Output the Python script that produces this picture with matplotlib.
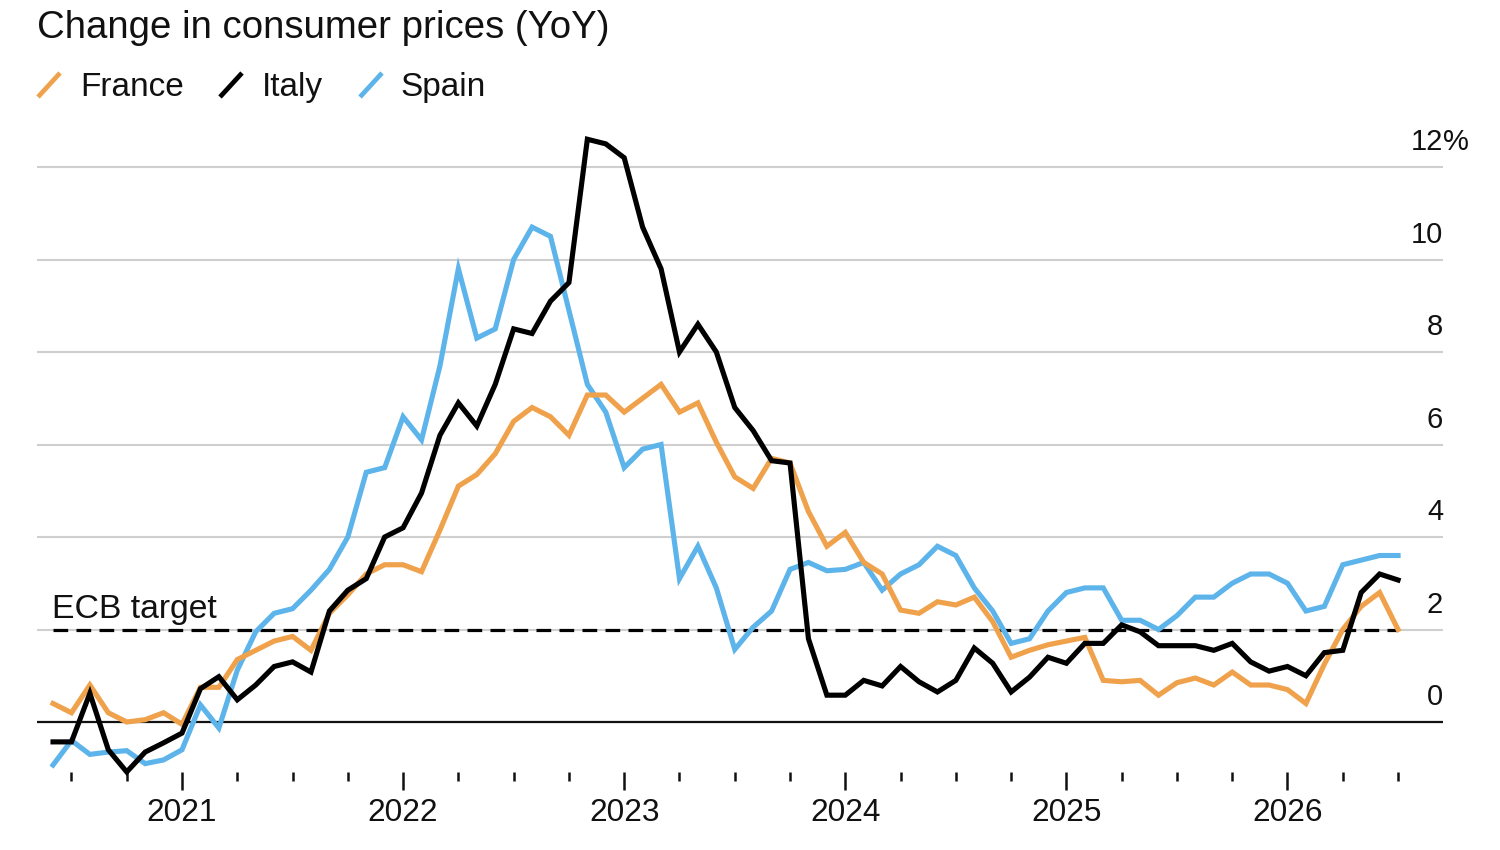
import matplotlib
matplotlib.use("Agg")
import matplotlib.pyplot as plt
from matplotlib.lines import Line2D

plt.rcParams['font.family'] = ['Liberation Sans', 'DejaVu Sans']

# months since Jan 2021 (Jun 2020 .. Jul 2026)
months = list(range(-7, 67))

france = [0.4, 0.2, 0.8, 0.2, 0.0, 0.05, 0.2,
          -0.05, 0.75, 0.75, 1.35, 1.55, 1.75, 1.85, 1.55, 2.35, 2.75, 3.2, 3.4,
          3.4, 3.25, 4.15, 5.1, 5.35, 5.8, 6.5, 6.8, 6.6, 6.2, 7.07, 7.07,
          6.7, 7.0, 7.3, 6.7, 6.9, 6.05, 5.3, 5.05, 5.7, 5.6, 4.55, 3.8,
          4.1, 3.45, 3.2, 2.42, 2.35, 2.6, 2.53, 2.7, 2.17, 1.4, 1.55, 1.67,
          1.75, 1.83, 0.9, 0.87, 0.9, 0.58, 0.85, 0.95, 0.8, 1.08, 0.8, 0.8,
          0.7, 0.4, 1.25, 2.0, 2.5, 2.8, 2.0]

italy = [-0.43, -0.43, 0.62, -0.6, -1.08, -0.65, -0.45,
         -0.24, 0.72, 0.98, 0.48, 0.8, 1.2, 1.3, 1.08, 2.4, 2.85, 3.1, 4.0,
         4.2, 4.95, 6.2, 6.9, 6.4, 7.3, 8.5, 8.4, 9.1, 9.5, 12.6, 12.5,
         12.2, 10.7, 9.8, 8.0, 8.6, 8.0, 6.8, 6.3, 5.65, 5.6, 1.8, 0.58,
         0.58, 0.9, 0.78, 1.2, 0.87, 0.65, 0.9, 1.6, 1.27, 0.65, 0.97, 1.4,
         1.27, 1.7, 1.7, 2.1, 1.95, 1.65, 1.65, 1.65, 1.55, 1.7, 1.3, 1.1,
         1.2, 1.0, 1.5, 1.55, 2.8, 3.2, 3.07]

spain = [-0.93, -0.4, -0.7, -0.65, -0.62, -0.9, -0.82,
         -0.6, 0.37, -0.13, 1.12, 1.95, 2.35, 2.45, 2.85, 3.3, 4.0, 5.4, 5.5,
         6.6, 6.1, 7.7, 9.8, 8.3, 8.5, 10.0, 10.7, 10.5, 8.9, 7.3, 6.7,
         5.5, 5.9, 6.0, 3.1, 3.8, 2.9, 1.57, 2.05, 2.4, 3.3, 3.45, 3.27,
         3.3, 3.45, 2.85, 3.2, 3.4, 3.8, 3.6, 2.9, 2.4, 1.7, 1.8, 2.4,
         2.8, 2.9, 2.9, 2.2, 2.2, 2.0, 2.3, 2.7, 2.7, 3.0, 3.2, 3.2,
         3.0, 2.4, 2.5, 3.4, 3.5, 3.6, 3.6]

year_labels = ['2021', '2022', '2023', '2024', '2025', '2026']
year_positions = [0, 12, 24, 36, 48, 60]
ytick_values = [0, 2, 4, 6, 8, 10, 12]
ecb_target = 2.0

series_names = ['France', 'Italy', 'Spain']
C_FRANCE = '#EFA24B'
C_ITALY = '#000000'
C_SPAIN = '#5DB4EA'

W, H = 1500, 850
fig = plt.figure(figsize=(15, 8.5), dpi=100)
fig.patch.set_facecolor('white')


def fx(px):
    return px / W


def fy(py):
    return 1 - py / H


ax = fig.add_axes([fx(37), fy(772), fx(1443) - fx(37), fy(130) - fy(772)])
ax.set_xlim(-7.87, 68.44)
ax.set_ylim(-1.081, 12.8)
for s in ax.spines.values():
    s.set_visible(False)

# gridlines
for v in ytick_values[1:]:
    ax.axhline(v, color='#cfcfcf', lw=1.5, zorder=1)
ax.axhline(0, color='#111111', lw=1.6, zorder=2)

# ECB target
ax.plot([months[0], months[-1]], [ecb_target, ecb_target], color='black',
        lw=2.3, dashes=(4.6, 2.6), zorder=3)
ax.text(months[0] - 0.05, ecb_target + 0.25, 'ECB target', fontsize=24.3,
        ha='left', va='baseline', color='#111111')

# series
LW = 3.7
ax.plot(months, spain, color=C_SPAIN, lw=LW, zorder=4, clip_on=False,
        solid_joinstyle='miter')
ax.plot(months, france, color=C_FRANCE, lw=LW, zorder=5, clip_on=False,
        solid_joinstyle='miter')
ax.plot(months, italy, color=C_ITALY, lw=LW, zorder=6, clip_on=False,
        solid_joinstyle='miter')

# y tick labels (right side, above gridlines)
for v in ytick_values:
    ax.text(68.44, v + 0.54, str(v), fontsize=21, ha='right', va='center',
            color='#111111')
ax.text(68.44, 12 + 0.54, '%', fontsize=21, ha='left', va='center',
        color='#111111')
ax.set_yticks([])

# x ticks
minor = [m for m in range(-6, 67, 3) if m not in year_positions]
ax.set_xticks(year_positions)
ax.set_xticklabels(year_labels, fontsize=22.8, color='#111111')
ax.set_xticks(minor, minor=True)
ax.tick_params(axis='x', which='major', length=13, width=1.8, color='#111111',
               pad=6, direction='out')
ax.tick_params(axis='x', which='minor', length=6.5, width=1.8,
               color='#111111', direction='out')

# title
fig.text(fx(37), fy(38), 'Change in consumer prices (YoY)', fontsize=27.6,
         ha='left', va='baseline', color='#111111')

# legend
leg_items = [(series_names[0], C_FRANCE, 38, 80),
             (series_names[1], C_ITALY, 220, 262),
             (series_names[2], C_SPAIN, 360, 400)]
for name, col, sx, tx in leg_items:
    fig.add_artist(Line2D([fx(sx), fx(sx + 22)], [fy(97), fy(73)], color=col,
                          lw=3.4, solid_capstyle='butt',
                          transform=fig.transFigure))
    fig.text(fx(tx), fy(96), name, fontsize=24, ha='left', va='baseline',
             color='#111111')

fig.savefig('out.png', dpi=100, facecolor='white')
